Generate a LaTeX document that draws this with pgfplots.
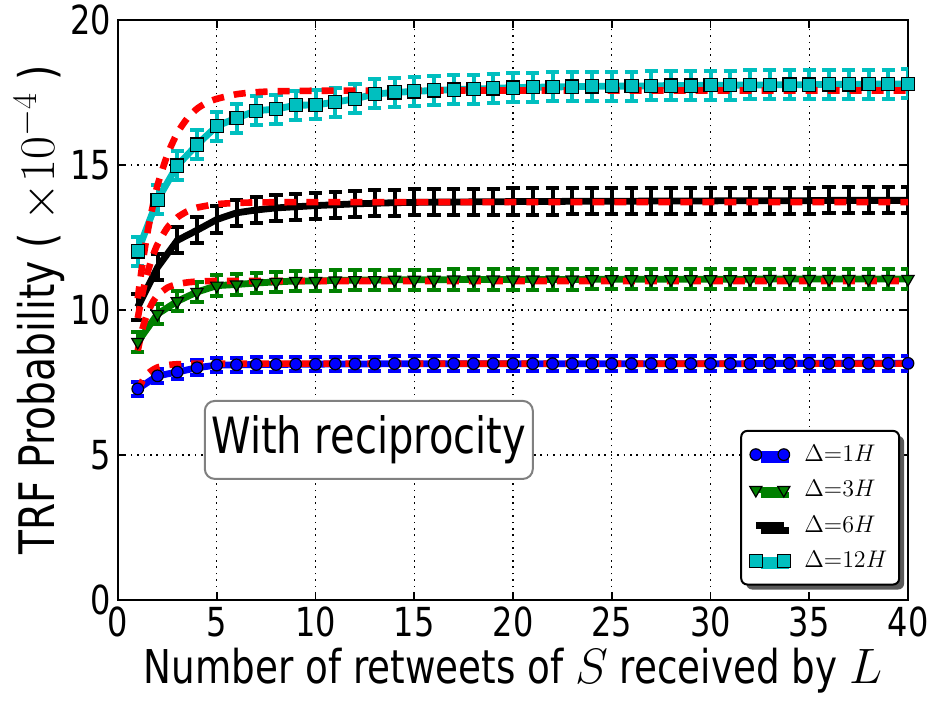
\documentclass[border=0pt]{standalone}
\usepackage{fontspec}
\setmainfont{DejaVu Sans}[FakeStretch=0.8]
\usepackage{pgfplots}
\usepackage{pgfplotstable}
\pgfplotsset{compat=1.18}
\usetikzlibrary{shadows}
\definecolor{mplblue}{rgb}{0,0,1}
\definecolor{mplgreen}{rgb}{0,0.5,0}
\definecolor{mplcyan}{rgb}{0,0.75,0.75}
\definecolor{mplred}{rgb}{1,0,0}

% measured curves: x, mean, error
\pgfplotstableread{
x y e
1 7.28 0.25
2 7.73 0.25
3 7.86 0.25
4 8.01 0.25
5 8.10 0.25
6 8.11 0.25
7 8.12 0.25
8 8.12 0.25
9 8.13 0.25
10 8.13 0.25
11 8.14 0.25
12 8.14 0.25
13 8.14 0.25
14 8.15 0.25
15 8.15 0.25
16 8.15 0.25
17 8.15 0.25
18 8.15 0.25
19 8.15 0.25
20 8.15 0.25
21 8.15 0.25
22 8.15 0.25
23 8.15 0.25
24 8.15 0.25
25 8.15 0.25
26 8.15 0.25
27 8.15 0.25
28 8.15 0.25
29 8.15 0.25
30 8.15 0.25
31 8.15 0.25
32 8.15 0.25
33 8.16 0.25
34 8.16 0.25
35 8.16 0.25
36 8.16 0.25
37 8.16 0.25
38 8.16 0.25
39 8.16 0.25
40 8.16 0.25
}\hone
\pgfplotstableread{
x y e
1 8.90 0.35
2 9.86 0.35
3 10.30 0.35
4 10.62 0.35
5 10.84 0.35
6 10.88 0.35
7 10.93 0.35
8 10.97 0.35
9 11.00 0.35
10 11.00 0.35
11 11.02 0.35
12 11.03 0.35
13 11.03 0.35
14 11.04 0.35
15 11.04 0.35
16 11.04 0.35
17 11.05 0.35
18 11.05 0.35
19 11.05 0.35
20 11.05 0.35
21 11.05 0.35
22 11.05 0.35
23 11.05 0.35
24 11.06 0.35
25 11.06 0.35
26 11.06 0.35
27 11.06 0.35
28 11.06 0.35
29 11.06 0.35
30 11.06 0.35
31 11.06 0.35
32 11.06 0.35
33 11.07 0.35
34 11.07 0.35
35 11.07 0.35
36 11.07 0.35
37 11.07 0.35
38 11.07 0.35
39 11.07 0.35
40 11.07 0.35
}\hthree
\pgfplotstableread{
x y e
1 10.10 0.45
2 11.47 0.45
3 12.40 0.45
4 12.75 0.45
5 13.12 0.45
6 13.35 0.45
7 13.45 0.45
8 13.52 0.45
9 13.56 0.45
10 13.60 0.45
11 13.63 0.45
12 13.66 0.45
13 13.68 0.45
14 13.70 0.45
15 13.71 0.45
16 13.72 0.45
17 13.72 0.45
18 13.73 0.45
19 13.73 0.45
20 13.74 0.45
21 13.74 0.45
22 13.74 0.45
23 13.75 0.45
24 13.75 0.45
25 13.75 0.45
26 13.75 0.45
27 13.76 0.45
28 13.76 0.45
29 13.76 0.45
30 13.76 0.45
31 13.77 0.45
32 13.77 0.45
33 13.77 0.45
34 13.77 0.45
35 13.77 0.45
36 13.78 0.45
37 13.78 0.45
38 13.78 0.45
39 13.78 0.45
40 13.78 0.45
}\hsix
\pgfplotstableread{
x y e
1 12.02 0.5
2 13.80 0.5
3 14.98 0.5
4 15.70 0.5
5 16.34 0.5
6 16.62 0.5
7 16.87 0.5
8 16.93 0.5
9 17.06 0.5
10 17.07 0.5
11 17.17 0.5
12 17.28 0.5
13 17.45 0.5
14 17.50 0.5
15 17.54 0.5
16 17.57 0.5
17 17.60 0.5
18 17.62 0.5
19 17.64 0.5
20 17.67 0.5
21 17.68 0.5
22 17.69 0.5
23 17.70 0.5
24 17.71 0.5
25 17.72 0.5
26 17.72 0.5
27 17.73 0.5
28 17.74 0.5
29 17.74 0.5
30 17.75 0.5
31 17.75 0.5
32 17.76 0.5
33 17.76 0.5
34 17.77 0.5
35 17.77 0.5
36 17.78 0.5
37 17.78 0.5
38 17.79 0.5
39 17.79 0.5
40 17.80 0.5
}\htwelve

% fitted curves (red dashed)
\pgfplotstableread{
x y
1 7.20
1.25 7.57
1.5 7.80
1.75 7.93
2 8.02
2.5 8.10
3 8.13
4 8.15
6 8.15
10 8.15
20 8.15
40 8.15
}\fone
\pgfplotstableread{
x y
1 8.60
1.25 9.38
1.5 9.90
1.75 10.26
2 10.50
2.5 10.77
3 10.89
3.5 10.95
4 10.98
5 11.00
10 11.00
20 11.00
40 11.00
}\fthree
\pgfplotstableread{
x y
1 9.72
1.25 10.61
1.5 11.30
1.75 11.84
2 12.26
2.5 12.84
3 13.19
3.5 13.40
4 13.53
5 13.65
6 13.69
7 13.71
10 13.72
20 13.72
40 13.72
}\fsix
\pgfplotstableread{
x y
1 10.40
1.25 11.65
1.5 12.70
1.75 13.55
2 14.30
2.5 15.35
3 16.10
3.5 16.60
4 16.94
4.5 17.15
5 17.28
6 17.44
7 17.51
8 17.54
10 17.56
15 17.57
20 17.57
30 17.57
40 17.57
}\ftwelve

\pgfplotsset{
  errs/.style={error bars/.cd, y dir=both, y explicit,
    error bar style={line width=2pt, #1},
    error mark options={rotate=90, mark size=3.3pt, line width=2pt, #1}},
  fit/.style={mplred, line width=3.3pt, dash pattern=on 6pt off 5pt,
    smooth, tension=0.4, forget plot}
}

\begin{document}
\begin{tikzpicture}
\begin{axis}[
  scale only axis,
  width=395pt, height=290pt,
  xmin=0, xmax=40, ymin=0, ymax=20,
  xtick={0,5,...,40}, ytick={0,5,...,20},
  tick align=inside, xtick pos=both, ytick pos=both,
  major tick length=4pt,
  axis line style={line width=1pt},
  tick style={line width=0.8pt, black},
  grid=major,
  major grid style={black, line width=0.6pt, dash pattern=on 0.8pt off 2.4pt},
  /pgf/number format/assume math mode=true,
  ticklabel style={font=\fontsize{20}{24}\selectfont},
  xlabel={Number of retweets of $S$ received by $L$},
  ylabel={TRF Probability ( $\times10^{-4}$ )},
  xlabel style={font=\fontsize{23.3}{27}\selectfont, at={(axis description cs:0.5,-0.121)}, anchor=center},
  ylabel style={font=\fontsize{24.5}{29}\selectfont, at={(axis description cs:-0.1,0.5)}, anchor=center},
  legend cell align=left,
  legend style={at={(0.99,0.025)}, anchor=south east, draw=black, line width=1pt,
    rounded corners=3pt, fill=white,
    drop shadow={shadow xshift=2.5pt, shadow yshift=-2.5pt, fill=black!65, opacity=1},
    font=\fontsize{12}{14}\selectfont, row sep=4pt, inner xsep=4pt, inner ysep=5pt},
  legend image code/.code={\draw[#1] plot coordinates {(0pt,0pt) (14pt,0pt)};},
]
\addplot[mplblue, line width=3.4pt, mark=*, mark size=2.9pt,
  mark options={fill=mplblue, draw=black, line width=0.6pt, sharp corners},
  errs=mplblue]
  table[x=x, y=y, y error=e] {\hone};
\addlegendentry{\hspace{5pt}$\Delta{=}1H$}
\addplot[mplgreen, line width=3.4pt, mark=triangle*, mark size=3.5pt,
  mark options={fill=mplgreen, draw=black, line width=0.6pt, rotate=180, sharp corners},
  errs=mplgreen]
  table[x=x, y=y, y error=e] {\hthree};
\addlegendentry{\hspace{5pt}$\Delta{=}3H$}
\addplot[black, line width=3.4pt, mark=none, errs=black]
  table[x=x, y=y, y error=e] {\hsix};
\addlegendentry{\hspace{5pt}$\Delta{=}6H$}
\addplot[mplcyan, line width=3.4pt, mark=square*, mark size=3.3pt,
  mark options={fill=mplcyan, draw=black, line width=0.6pt, sharp corners},
  errs=mplcyan]
  table[x=x, y=y, y error=e] {\htwelve};
\addlegendentry{\hspace{5pt}$\Delta{=}12H$}

\addplot[fit] table {\fone};
\addplot[fit] table {\fthree};
\addplot[fit] table {\fsix};
\addplot[fit] table {\ftwelve};

\node[draw=gray, line width=1pt, rounded corners=5pt, fill=white, inner sep=0pt,
  minimum width=164pt, minimum height=39pt, font=\fontsize{25}{30}\selectfont]
  at (axis cs:12.7,5.52) {With reciprocity};

\coordinate (ll) at (rel axis cs:0,0);
\coordinate (ur) at (rel axis cs:1,1);
\end{axis}
\pgfresetboundingbox
\path ([shift={(-59pt,-50.5pt)}]ll) rectangle ([shift={(14.5pt,10pt)}]ur);
\end{tikzpicture}
\end{document}
